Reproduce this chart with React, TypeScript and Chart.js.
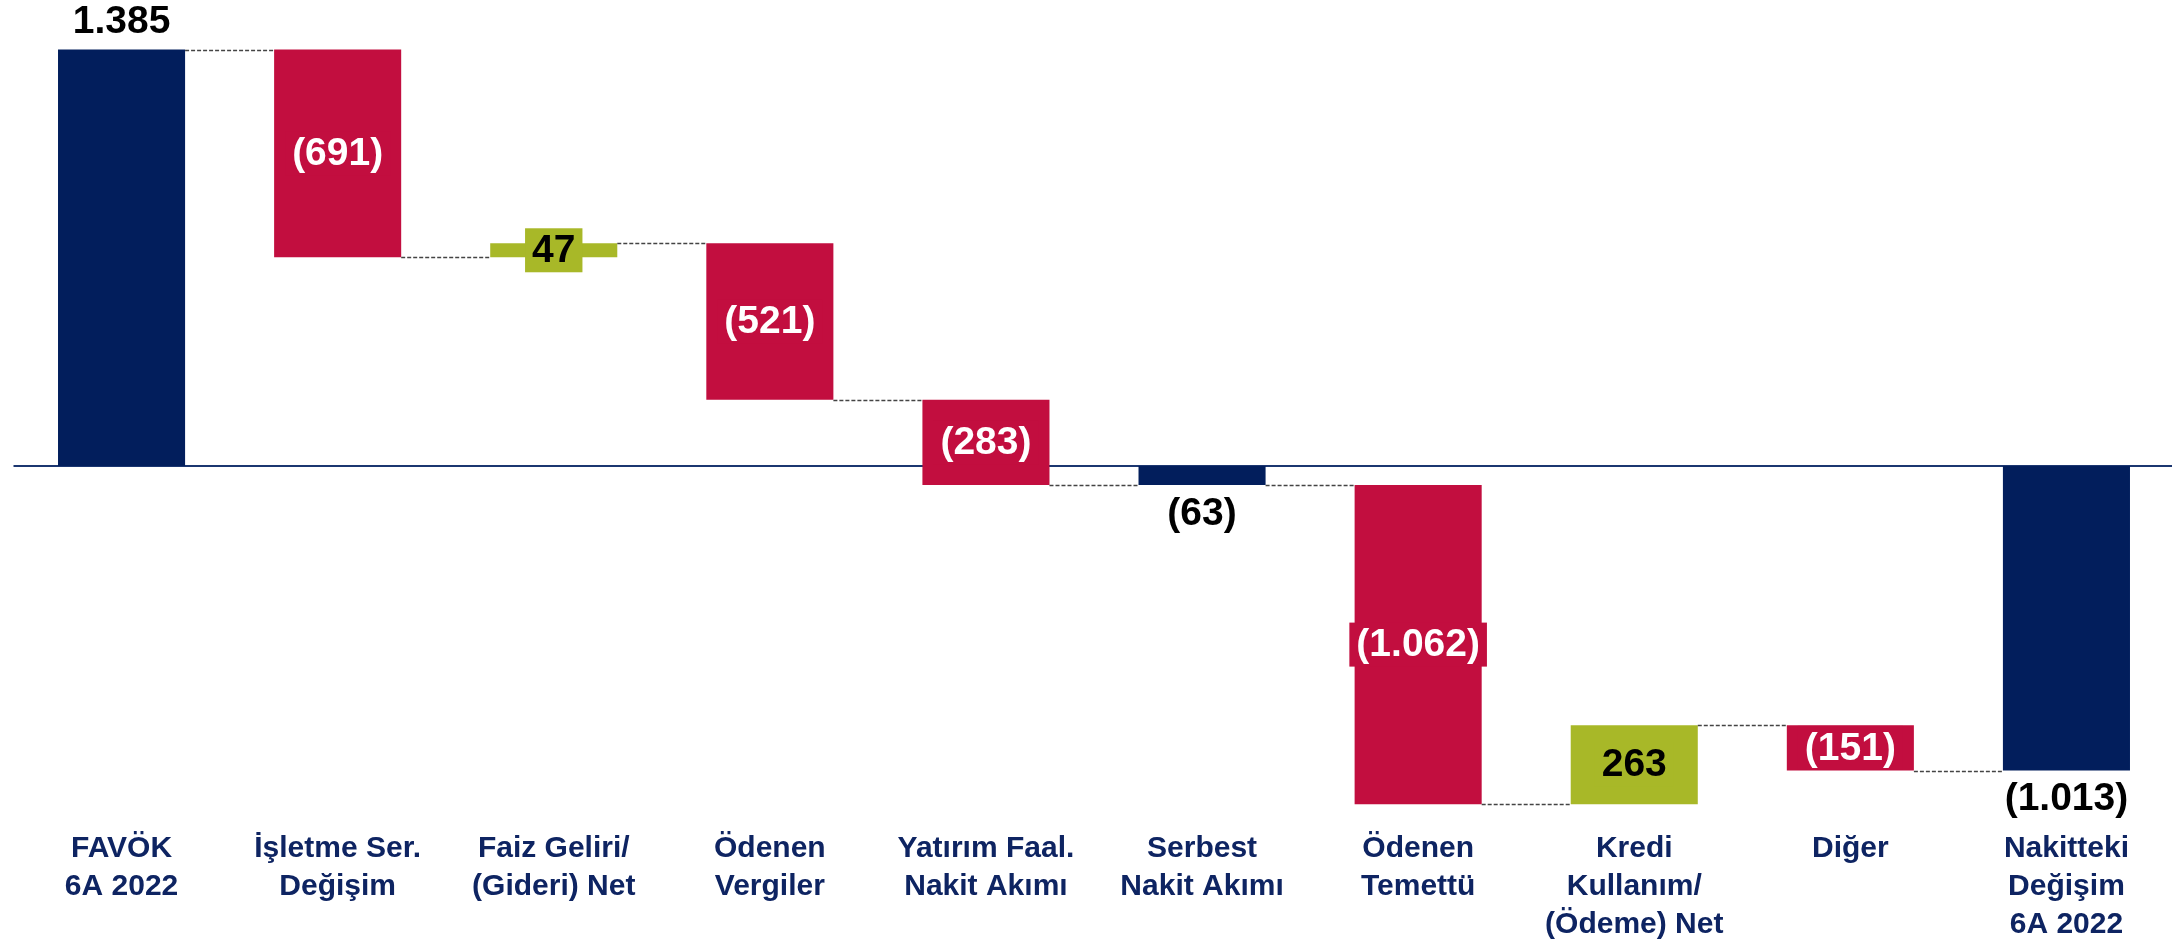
import React, { useEffect, useRef } from "react";
import { Chart, registerables } from "chart.js";

Chart.register(...registerables);

// ---- data ----
const categories: string[][] = [
  ["FAVÖK", "6A 2022"],
  ["İşletme Ser.", "Değişim"],
  ["Faiz Geliri/", "(Gideri) Net"],
  ["Ödenen", "Vergiler"],
  ["Yatırım Faal.", "Nakit Akımı"],
  ["Serbest", "Nakit Akımı"],
  ["Ödenen", "Temettü"],
  ["Kredi", "Kullanım/", "(Ödeme) Net"],
  ["Diğer"],
  ["Nakitteki", "Değişim", "6A 2022"],
];
const values: number[] = [1385, -691, 47, -521, -283, -63, -1062, 263, -151, -1013];
const isTotal: boolean[] = [true, false, false, false, false, true, false, false, false, true];
const labelPlacement: string[] = [
  "above", "inside", "inside", "inside", "inside", "below", "inside", "inside", "inside", "below",
];
const yMin = -1180;
const yMax = 1500;

// ---- styles ----
const NAVY = "#021E5C";
const RED = "#C20E3F";
const GREEN = "#A8B828";
const AXIS_TEXT = "#0E2462";
const FONT_FAMILY = "'Liberation Sans', Arial, Helvetica, sans-serif";

function fmtNum(n: number): string {
  return String(Math.round(n)).replace(/\B(?=(\d{3})+(?!\d))/g, ".");
}
function fmtVal(v: number): string {
  return v < 0 ? `(${fmtNum(-v)})` : fmtNum(v);
}

function buildRanges(): number[][] {
  let run = 0;
  return values.map((v, i) => {
    if (isTotal[i]) {
      run = v;
      return [0, v];
    }
    const s = run;
    run += v;
    return [s, run];
  });
}

function barColor(i: number): string {
  if (isTotal[i]) return NAVY;
  return values[i] < 0 ? RED : GREEN;
}

export default function App() {
  const ref = useRef<HTMLCanvasElement | null>(null);

  useEffect(() => {
    if (!ref.current) return;
    const ranges = buildRanges();
    const colors = values.map((_, i) => barColor(i));

    const decor = {
      id: "waterfallDecor",
      beforeDatasetsDraw(chart: any) {
        const { ctx, chartArea, scales } = chart;
        const y0 = scales.y.getPixelForValue(0);
        ctx.save();
        ctx.strokeStyle = "#1B3670";
        ctx.lineWidth = 2;
        ctx.beginPath();
        ctx.moveTo(chartArea.left, y0);
        ctx.lineTo(chart.width, y0);
        ctx.stroke();
        ctx.restore();
      },
      afterDatasetsDraw(chart: any) {
        const { ctx, scales } = chart;
        const meta = chart.getDatasetMeta(0);
        const bars = meta.data.map((el: any) => el.getProps(["x", "y", "base", "width"], true));

        // connectors
        ctx.save();
        ctx.strokeStyle = "#444444";
        ctx.lineWidth = 1.4;
        ctx.setLineDash([4, 2]);
        for (let i = 0; i < bars.length - 1; i++) {
          const py = Math.round(scales.y.getPixelForValue(ranges[i][1])) + 0.5;
          const x1 = bars[i].x + bars[i].width / 2;
          const x2 = bars[i + 1].x - bars[i + 1].width / 2;
          ctx.beginPath();
          ctx.moveTo(x1, py);
          ctx.lineTo(x2, py);
          ctx.stroke();
        }
        ctx.restore();

        // value labels
        ctx.save();
        ctx.font = `bold 39px ${FONT_FAMILY}`;
        ctx.textAlign = "center";
        ctx.textBaseline = "middle";
        bars.forEach((b: any, i: number) => {
          const text = fmtVal(values[i]);
          const top = Math.min(b.y, b.base);
          const bottom = Math.max(b.y, b.base);
          const place = labelPlacement[i];
          if (place === "above") {
            ctx.fillStyle = "#000000";
            ctx.fillText(text, b.x, top - 27);
          } else if (place === "below") {
            ctx.fillStyle = "#000000";
            ctx.fillText(text, b.x, bottom + 29);
          } else {
            const cy = (top + bottom) / 2;
            const w = ctx.measureText(text).width;
            ctx.fillStyle = colors[i];
            ctx.fillRect(b.x - w / 2 - 7, cy - 22, w + 14, 44);
            ctx.fillStyle = colors[i] === GREEN ? "#000000" : "#FFFFFF";
            ctx.fillText(text, b.x, cy + 1);
          }
        });
        ctx.restore();
      },
    };

    const chart = new Chart(ref.current, {
      type: "bar",
      data: {
        labels: categories,
        datasets: [
          {
            data: ranges as any,
            backgroundColor: colors,
            borderWidth: 0,
            borderSkipped: false,
            barPercentage: 0.588,
            categoryPercentage: 1,
          },
        ],
      },
      options: {
        responsive: false,
        animation: false,
        devicePixelRatio: 1,
        layout: { padding: { left: 13.5, right: 1.5, top: 15, bottom: 0 } },
        plugins: {
          legend: { display: false },
          tooltip: { enabled: false },
        },
        scales: {
          x: {
            offset: true,
            grid: { display: false, drawTicks: false },
            border: { display: false },
            ticks: {
              autoSkip: false,
              maxRotation: 0,
              minRotation: 0,
              padding: 9.5,
              color: AXIS_TEXT,
              font: { family: FONT_FAMILY, size: 30, weight: "bold", lineHeight: 1.26 },
            },
            afterFit: (s: any) => {
              s.height = 121.2;
            },
          },
          y: {
            display: false,
            min: yMin,
            max: yMax,
          },
        },
      },
      plugins: [decor],
    });
    return () => chart.destroy();
  }, []);

  return (
    <div
      style={{
        position: "fixed",
        left: 0,
        top: 0,
        width: 2172,
        height: 942,
        overflow: "hidden",
        background: "#ffffff",
      }}
    >
      <canvas ref={ref} width={2176} height={942} style={{ display: "block", width: 2176, height: 942 }} />
    </div>
  );
}
